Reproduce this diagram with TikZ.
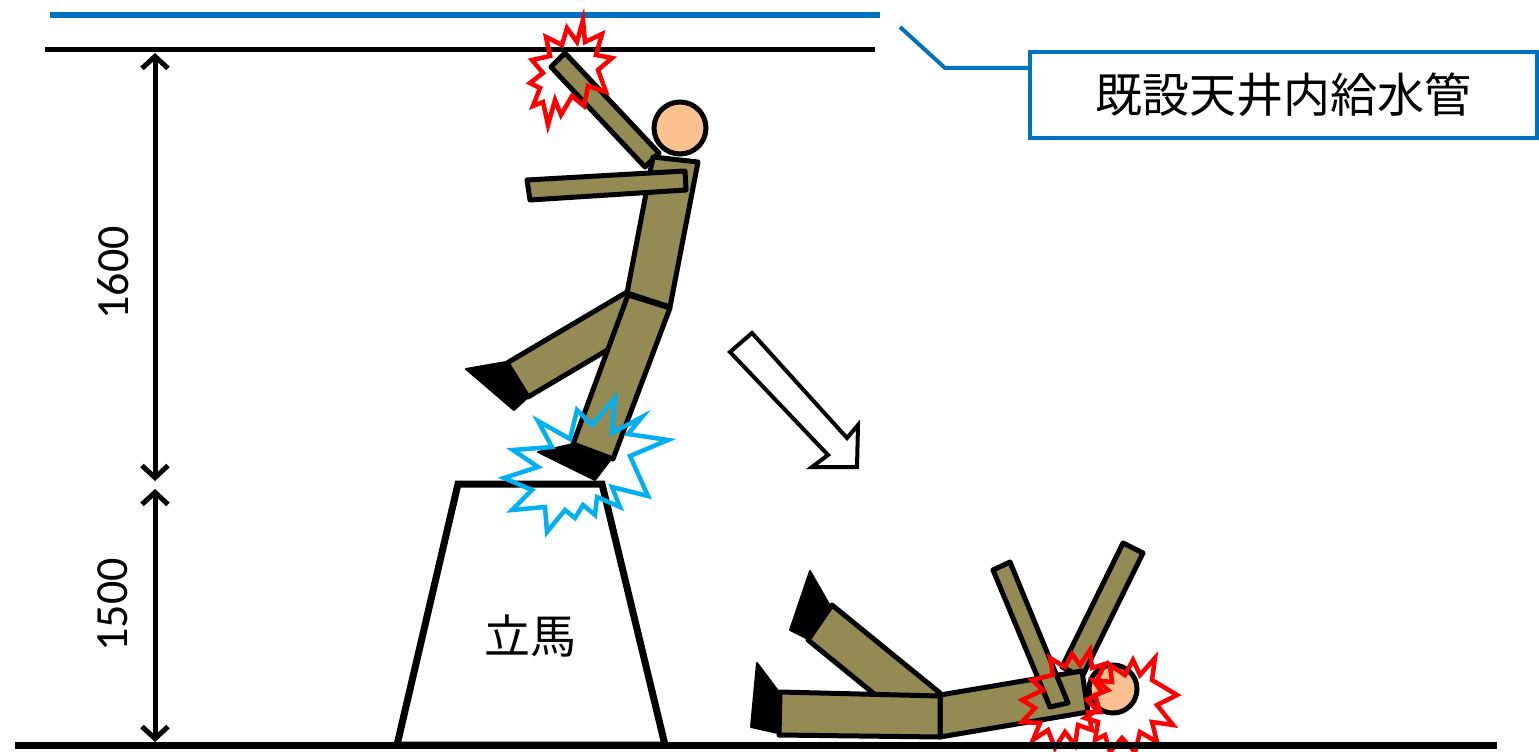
\documentclass[tikz,border=0pt]{standalone}
\usepackage{fontspec}
\newfontfamily\jpfont{Noto Sans CJK JP}
\newfontfamily\numfont{Carlito}
\usetikzlibrary{arrows.meta}
\definecolor{suit}{HTML}{948A54}
\definecolor{skin}{HTML}{FAC090}
\definecolor{pipeblue}{HTML}{0070C0}
\definecolor{bangblue}{HTML}{00B0F0}
\definecolor{bangred}{HTML}{FF0000}
\begin{document}
\begin{tikzpicture}[x=1pt,y=-1pt,
  part/.style={draw=black,line width=5,fill=suit,line join=round},
  headpart/.style={draw=black,line width=5,fill=skin},
  shoe/.style={draw=black,line width=2,fill=black,line join=round},
  bang/.style={line width=4.5,line join=miter,miter limit=20},
  dimline/.style={line width=5,{Straight Barb[length=12pt,width=26pt,line width=5pt]}-{Straight Barb[length=12pt,width=26pt,line width=5pt]}},
  dimtext/.style={font=\numfont\fontsize{46}{50}\selectfont,rotate=90,inner sep=0},
  jptext/.style={font=\jpfont\fontsize{46}{52}\selectfont,inner sep=0}]
\useasboundingbox (0,0) rectangle (1539,752);

% ceiling pipe, ceiling and floor
\draw[pipeblue,line width=6] (50,15) -- (880,15);
\draw[line width=5] (45,50) -- (875,50);

% trestle
\draw[line width=7,line join=miter,fill=white] (458,484) -- (602,484) -- (665,745) -- (397,745) -- cycle;
\node[jptext] (trestle) at (530,636) {立馬};

% dimension lines
\coordinate (dA) at (155,53);
\coordinate (dB) at (155,481);
\coordinate (dC) at (155,489);
\coordinate (dD) at (155,742);
\draw[dimline] (dA) -- (dB);
\draw[dimline] (dC) -- (dD);
\node[dimtext] (h1) at (113,273) {1600};
\node[dimtext] (h2) at (113,605) {1500};

% label for the pipe
\node[jptext,font=\jpfont\fontsize{47}{52}\selectfont,draw=pipeblue,line width=4,
      minimum width=507,minimum height=86] (pipelabel) at (1283.5,95) {既設天井内給水管};
\coordinate (leadA) at (900,27);
\coordinate (leadB) at (945,68);
\draw[pipeblue,line width=4] (leadA) -- (leadB) -- (leadB -| pipelabel.west);

% falling worker
\draw[part] (565,53) -- (659,153) -- (645,167) -- (551,67) -- cycle;
\draw[headpart] (680,128) circle (26);
\draw[part] (653,157) -- (698,162) -- (670,307) -- (627,293) -- cycle;
\draw[part] (527,180) -- (685,171) -- (686,190) -- (530,200) -- cycle;
\draw[part] (627,292) -- (648,326) -- (528,397) -- (507,363) -- cycle;
\draw[shoe] (466,369) -- (506,362) -- (528,397) -- (514,410) -- cycle;
\draw[part] (628,295) -- (670,308) -- (613,459) -- (573,444) -- cycle;
\draw[shoe] (538,452) -- (573,444) -- (611,459) -- (595,480) -- cycle;

% impact marks of the falling worker
\draw[bang,bangred] (583,20) -- (585,42) -- (602,34) -- (596,55) -- (612,58) -- (598,70)
  -- (606,92) -- (588,86) -- (584,106) -- (572,96) -- (561,115) -- (555,100) -- (548,125)
  -- (543,102) -- (533,106) -- (540,88) -- (530,83) -- (543,73) -- (532,60) -- (550,56)
  -- (546,37) -- (562,45) -- (567,28) -- (577,42) -- cycle;
\draw[bang,bangblue] (615,398) -- (612,433) -- (642,417) -- (628,434) -- (668,440) -- (630,456)
  -- (648,496) -- (612,487) -- (620,507) -- (597,497) -- (595,515) -- (583,505) -- (575,518)
  -- (565,510) -- (547,532) -- (545,507) -- (512,510) -- (532,490) -- (504,478) -- (538,467)
  -- (513,450) -- (552,447) -- (538,421) -- (570,439) -- (577,410) -- (592,425) -- cycle;

% fall direction
\draw[line width=4,fill=white,line join=miter] (730,352) -- (752,333) -- (847,438) -- (858,425)
  -- (857,467) -- (812,467) -- (828,455) -- cycle;

% worker lying on the floor
\draw[part] (1123,543) -- (1143,553) -- (1082,677) -- (1062,667) -- cycle;
\draw[headpart] (1113,689) circle (24);
\draw[part] (940,695) -- (1082,671) -- (1088,712) -- (940,737) -- cycle;
\draw[part] (993,570) -- (1010,562) -- (1068,703) -- (1050,707) -- cycle;
\draw[part] (832,605) -- (940,693) -- (916,728) -- (808,640) -- cycle;
\draw[shoe] (810,571) -- (830,606) -- (808,639) -- (790,630) -- cycle;
\draw[part] (780,692) -- (940,696) -- (940,737) -- (779,735) -- cycle;
\draw[shoe] (757,663) -- (778,691) -- (778,733) -- (751,727) -- cycle;

% impact marks of the lying worker
\draw[bang,bangred] (1090,650) -- (1092,668) -- (1105,664) -- (1097,680) -- (1108,690) -- (1095,695)
  -- (1100,712) -- (1088,712) -- (1092,730) -- (1078,725) -- (1075,745) -- (1065,732) -- (1055,748)
  -- (1048,730) -- (1033,740) -- (1040,723) -- (1022,722) -- (1035,708) -- (1022,700) -- (1043,690)
  -- (1032,680) -- (1053,675) -- (1050,658) -- (1065,667) -- (1072,654) -- (1080,665) -- cycle;
\draw[bang,bangred] (1133,660) -- (1140,675) -- (1155,658) -- (1152,680) -- (1177,695) -- (1157,705)
  -- (1173,725) -- (1152,722) -- (1157,742) -- (1140,732) -- (1135,752) -- (1122,738) -- (1110,752)
  -- (1105,735) -- (1095,740) -- (1098,722) -- (1085,718) -- (1097,710) -- (1087,700) -- (1102,692)
  -- (1093,680) -- (1112,682) -- (1110,665) -- (1125,675) -- cycle;

% floor
\draw[line width=7] (15,745) -- (1497,745);
\end{tikzpicture}
\end{document}
